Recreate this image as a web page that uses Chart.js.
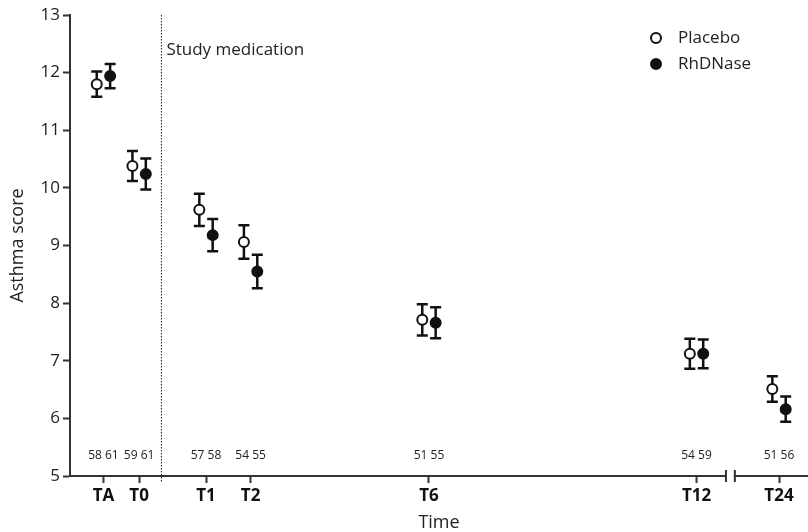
<!DOCTYPE html>
<html>
<head>
<meta charset="utf-8">
<script src="https://cdn.jsdelivr.net/npm/chart.js@4.4.1/dist/chart.umd.min.js"></script>
<style>
  html, body { margin: 0; padding: 0; background: #fff; }
  #wrap { width: 808px; height: 532px; }
</style>
</head>
<body>
<div id="wrap"><canvas id="asthma-chart"></canvas></div>
<script>
// time points (months from start of study medication; TA and T0 are pre-treatment)
const timeLabels = ["TA", "T0", "T1", "T2", "T6", "T12", "T24"];
const timePos = [-1.3, -0.5, 1, 2, 6, 12, 13.85];

// mean asthma score +/- SEM per group
const placeboMean = [11.80, 10.38, 9.62, 9.06, 7.71, 7.12, 6.51];
const placeboSem = [0.22, 0.26, 0.28, 0.29, 0.27, 0.26, 0.22];
const rhdnaseMean = [11.94, 10.24, 9.18, 8.55, 7.66, 7.12, 6.16];
const rhdnaseSem = [0.21, 0.27, 0.28, 0.29, 0.27, 0.25, 0.22];

// number of patients per group at each time point
const placeboN = [58, 59, 57, 54, 51, 54, 51];
const rhdnaseN = [61, 61, 58, 55, 55, 59, 56];

const shift = 0.15;
const FONT = "'Open Sans', 'Noto Sans', sans-serif";
const INK = "#111";

function points(means, dx) {
    return means.map(function (m, i) {
        return { x: timePos[i] + dx, y: m };
    });
}

// SEM whiskers with caps
const errorBars = {
    id: "errorBars",
    afterDatasetsDraw: function (chart) {
        const ctx = chart.ctx;
        const y = chart.scales.y;
        ctx.save();
        ctx.strokeStyle = INK;
        ctx.lineWidth = 2.5;
        chart.data.datasets.forEach(function (ds, di) {
            const meta = chart.getDatasetMeta(di);
            meta.data.forEach(function (pt, i) {
                const v = ds.data[i].y;
                const top = y.getPixelForValue(v + ds.sem[i]);
                const bot = y.getPixelForValue(v - ds.sem[i]);
                ctx.beginPath();
                ctx.moveTo(pt.x, top);
                ctx.lineTo(pt.x, bot);
                ctx.moveTo(pt.x - 5.5, top);
                ctx.lineTo(pt.x + 5.5, top);
                ctx.moveTo(pt.x - 5.5, bot);
                ctx.lineTo(pt.x + 5.5, bot);
                ctx.stroke();
            });
        });
        ctx.restore();
    },
    afterDraw: function (chart) {
        // redraw markers on top of the whiskers
        const ctx = chart.ctx;
        chart.data.datasets.forEach(function (ds, di) {
            chart.getDatasetMeta(di).data.forEach(function (pt) {
                ctx.save();
                ctx.beginPath();
                ctx.arc(pt.x, pt.y, 5, 0, Math.PI * 2);
                ctx.fillStyle = ds.pointBackgroundColor;
                ctx.fill();
                ctx.lineWidth = 2;
                ctx.strokeStyle = INK;
                ctx.stroke();
                ctx.restore();
            });
        });
    }
};

// start-of-medication line, n counts, legend, axis break
const annotations = {
    id: "annotations",
    afterDraw: function (chart) {
        const ctx = chart.ctx;
        const x = chart.scales.x;
        const area = chart.chartArea;
        ctx.save();

        const x0 = x.getPixelForValue(0);
        ctx.strokeStyle = INK;
        ctx.lineWidth = 1;
        ctx.setLineDash([1.5, 1.5]);
        ctx.beginPath();
        ctx.moveTo(x0, area.top);
        ctx.lineTo(x0, area.bottom + 7);
        ctx.stroke();
        ctx.setLineDash([]);

        ctx.fillStyle = "#222";
        ctx.font = "17px " + FONT;
        ctx.textAlign = "left";
        ctx.textBaseline = "middle";
        ctx.fillText("Study medication", x0 + 5, 50);

        ctx.font = "12px " + FONT;
        ctx.textAlign = "center";
        timePos.forEach(function (p, i) {
            ctx.fillText(placeboN[i] + " " + rhdnaseN[i], x.getPixelForValue(p), 456);
        });

        // legend
        const lx = 656;
        chart.data.datasets.forEach(function (ds, i) {
            const ly = 38 + i * 26;
            ctx.beginPath();
            ctx.arc(lx, ly, 5, 0, Math.PI * 2);
            ctx.fillStyle = ds.pointBackgroundColor;
            ctx.fill();
            ctx.lineWidth = 2;
            ctx.strokeStyle = INK;
            ctx.stroke();
            ctx.fillStyle = "#222";
            ctx.font = "17px " + FONT;
            ctx.textAlign = "left";
            ctx.fillText(ds.label, lx + 22, ly);
        });

        // axis break between T12 and T24
        const b1 = x.getPixelForValue(12.66);
        const b2 = x.getPixelForValue(12.86);
        const ay = area.bottom;
        ctx.fillStyle = "#fff";
        ctx.fillRect(b1 + 1, ay - 2, b2 - b1 - 2, 4);
        ctx.strokeStyle = "#333";
        ctx.lineWidth = 2;
        ctx.beginPath();
        ctx.moveTo(b1, ay - 6);
        ctx.lineTo(b1, ay + 6);
        ctx.moveTo(b2, ay - 6);
        ctx.lineTo(b2, ay + 6);
        ctx.stroke();
        ctx.restore();
    }
};

new Chart(document.getElementById("asthma-chart"), {
    type: "scatter",
    data: {
        datasets: [{
            label: "Placebo",
            data: points(placeboMean, -shift),
            sem: placeboSem,
            pointBackgroundColor: "#fff",
            pointBorderColor: INK,
            pointRadius: 0,
            pointHoverRadius: 0
        }, {
            label: "RhDNase",
            data: points(rhdnaseMean, shift),
            sem: rhdnaseSem,
            pointBackgroundColor: INK,
            pointBorderColor: INK,
            pointRadius: 0,
            pointHoverRadius: 0
        }]
    },
    options: {
        responsive: true,
        maintainAspectRatio: false,
        animation: false,
        layout: { padding: { top: 15, right: 0, left: 0, bottom: 0 } },
        plugins: {
            legend: { display: false },
            tooltip: { enabled: false }
        },
        scales: {
            x: {
                type: "linear",
                min: -2.05,
                max: 14.5,
                afterBuildTicks: function (scale) {
                    scale.ticks = timePos.map(function (p) { return { value: p }; });
                },
                afterFit: function (scale) { scale.height = 56; },
                grid: {
                    drawOnChartArea: false,
                    drawTicks: true,
                    tickLength: 7,
                    tickWidth: 2,
                    tickColor: "#333"
                },
                border: { color: "#333", width: 2 },
                ticks: {
                    autoSkip: false,
                    maxRotation: 0,
                    padding: 3,
                    color: "#111",
                    font: { family: FONT, size: 17, weight: "bold" },
                    callback: function (v) {
                        const i = timePos.indexOf(v);
                        return i >= 0 ? timeLabels[i] : "";
                    }
                },
                title: {
                    display: true,
                    text: "Time",
                    color: "#222",
                    font: { family: FONT, size: 18 },
                    padding: { top: 0, bottom: -2 }
                }
            },
            y: {
                min: 5,
                max: 13,
                afterFit: function (scale) { scale.width = 70; },
                grid: {
                    drawOnChartArea: false,
                    drawTicks: true,
                    tickLength: 7,
                    tickWidth: 2,
                    tickColor: "#333"
                },
                border: { color: "#333", width: 2 },
                ticks: {
                    stepSize: 1,
                    padding: 3,
                    color: "#222",
                    font: { family: FONT, size: 17 }
                },
                title: {
                    display: true,
                    text: "Asthma score",
                    color: "#222",
                    font: { family: FONT, size: 18 },
                    padding: { top: 7, bottom: 0 }
                }
            }
        }
    },
    plugins: [errorBars, annotations]
});
</script>
</body>
</html>
